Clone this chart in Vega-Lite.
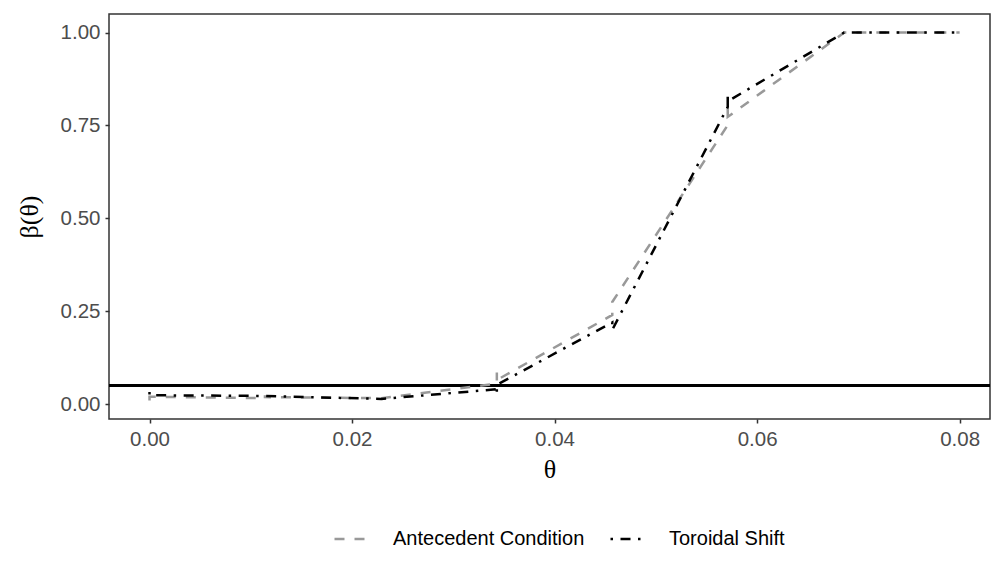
{
  "$schema": "https://vega.github.io/schema/vega-lite/v6.json",
  "width": 881,
  "height": 405,
  "autosize": {"type": "none"},
  "padding": {"left": 109, "top": 14, "right": 1, "bottom": 146},
  "background": "white",
  "config": {
    "view": {"stroke": "#333333", "strokeWidth": 1.5},
    "axis": {
      "grid": false,
      "domain": false,
      "ticks": true,
      "tickColor": "#333333",
      "tickSize": 4,
      "tickWidth": 1.5,
      "labelFont": "Liberation Sans",
      "labelFontSize": 20.5,
      "labelColor": "#4D4D4D",
      "titleFont": "Liberation Serif",
      "titleFontSize": 26,
      "titleFontWeight": "normal",
      "titleColor": "#000000"
    }
  },
  "data": {
    "values": [
      {"series": "Antecedent Condition", "i": 0, "theta": 0.0, "power": 0.010},
      {"series": "Antecedent Condition", "i": 1, "theta": 0.0, "power": 0.020},
      {"series": "Antecedent Condition", "i": 2, "theta": 0.0114, "power": 0.016},
      {"series": "Antecedent Condition", "i": 3, "theta": 0.0114, "power": 0.024},
      {"series": "Antecedent Condition", "i": 4, "theta": 0.0114, "power": 0.019},
      {"series": "Antecedent Condition", "i": 5, "theta": 0.0229, "power": 0.016},
      {"series": "Antecedent Condition", "i": 6, "theta": 0.0343, "power": 0.055},
      {"series": "Antecedent Condition", "i": 7, "theta": 0.0343, "power": 0.085},
      {"series": "Antecedent Condition", "i": 8, "theta": 0.0343, "power": 0.065},
      {"series": "Antecedent Condition", "i": 9, "theta": 0.0457, "power": 0.24},
      {"series": "Antecedent Condition", "i": 10, "theta": 0.0457, "power": 0.275},
      {"series": "Antecedent Condition", "i": 11, "theta": 0.0571, "power": 0.751},
      {"series": "Antecedent Condition", "i": 12, "theta": 0.0571, "power": 0.805},
      {"series": "Antecedent Condition", "i": 13, "theta": 0.0571, "power": 0.773},
      {"series": "Antecedent Condition", "i": 14, "theta": 0.0686, "power": 1.0},
      {"series": "Antecedent Condition", "i": 15, "theta": 0.08, "power": 1.0},
      {"series": "Toroidal Shift", "i": 0, "theta": 0.0, "power": 0.033},
      {"series": "Toroidal Shift", "i": 1, "theta": 0.0, "power": 0.024},
      {"series": "Toroidal Shift", "i": 2, "theta": 0.0114, "power": 0.022},
      {"series": "Toroidal Shift", "i": 3, "theta": 0.0229, "power": 0.014},
      {"series": "Toroidal Shift", "i": 4, "theta": 0.0343, "power": 0.040},
      {"series": "Toroidal Shift", "i": 5, "theta": 0.0343, "power": 0.028},
      {"series": "Toroidal Shift", "i": 6, "theta": 0.0343, "power": 0.052},
      {"series": "Toroidal Shift", "i": 7, "theta": 0.0457, "power": 0.22},
      {"series": "Toroidal Shift", "i": 8, "theta": 0.0457, "power": 0.20},
      {"series": "Toroidal Shift", "i": 9, "theta": 0.0571, "power": 0.80},
      {"series": "Toroidal Shift", "i": 10, "theta": 0.0571, "power": 0.835},
      {"series": "Toroidal Shift", "i": 11, "theta": 0.0571, "power": 0.815},
      {"series": "Toroidal Shift", "i": 12, "theta": 0.0686, "power": 1.0},
      {"series": "Toroidal Shift", "i": 13, "theta": 0.08, "power": 1.0}
    ]
  },
  "layer": [
    {
      "mark": {"type": "rule", "color": "#000000", "strokeWidth": 2},
      "encoding": {"y": {"datum": 0.05, "type": "quantitative"}}
    },
    {
      "mark": {"type": "line", "strokeWidth": 2.5, "clip": true},
      "encoding": {
        "x": {
          "field": "theta",
          "type": "quantitative",
          "scale": {"domain": [-0.004, 0.083], "nice": false, "zero": false},
          "axis": {"values": [0, 0.02, 0.04, 0.06, 0.08], "format": ".2f", "title": "θ", "labelPadding": 6, "titlePadding": 7}
        },
        "y": {
          "field": "power",
          "type": "quantitative",
          "scale": {"domain": [-0.04, 1.05], "nice": false, "zero": false},
          "axis": {"values": [0, 0.25, 0.5, 0.75, 1], "format": ".2f", "title": "β(θ)", "labelPadding": 5, "titlePadding": 18}
        },
        "color": {
          "field": "series",
          "type": "nominal",
          "scale": {"domain": ["Antecedent Condition", "Toroidal Shift"], "range": ["#999999", "#000000"]},
          "legend": {
            "title": null,
            "orient": "none",
            "legendX": 224,
            "legendY": 506,
            "direction": "horizontal",
            "symbolType": "stroke",
            "symbolSize": 1225,
            "symbolStrokeWidth": 2.5,
            "labelFont": "Liberation Sans",
            "labelFontSize": 20,
            "labelColor": "#000000",
            "labelLimit": 0,
            "labelOffset": 22,
            "columnPadding": 20
          }
        },
        "strokeDash": {
          "field": "series",
          "type": "nominal",
          "scale": {"domain": ["Antecedent Condition", "Toroidal Shift"], "range": [[10, 10], [2.5, 7.5, 10, 7.5]]},
          "legend": {
            "title": null,
            "orient": "none",
            "legendX": 224,
            "legendY": 506,
            "direction": "horizontal",
            "symbolType": "stroke",
            "symbolSize": 1225,
            "symbolStrokeWidth": 2.5,
            "labelFont": "Liberation Sans",
            "labelFontSize": 20,
            "labelColor": "#000000",
            "labelLimit": 0,
            "labelOffset": 22,
            "columnPadding": 20
          }
        },
        "order": {"field": "i", "type": "quantitative"}
      }
    }
  ]
}
